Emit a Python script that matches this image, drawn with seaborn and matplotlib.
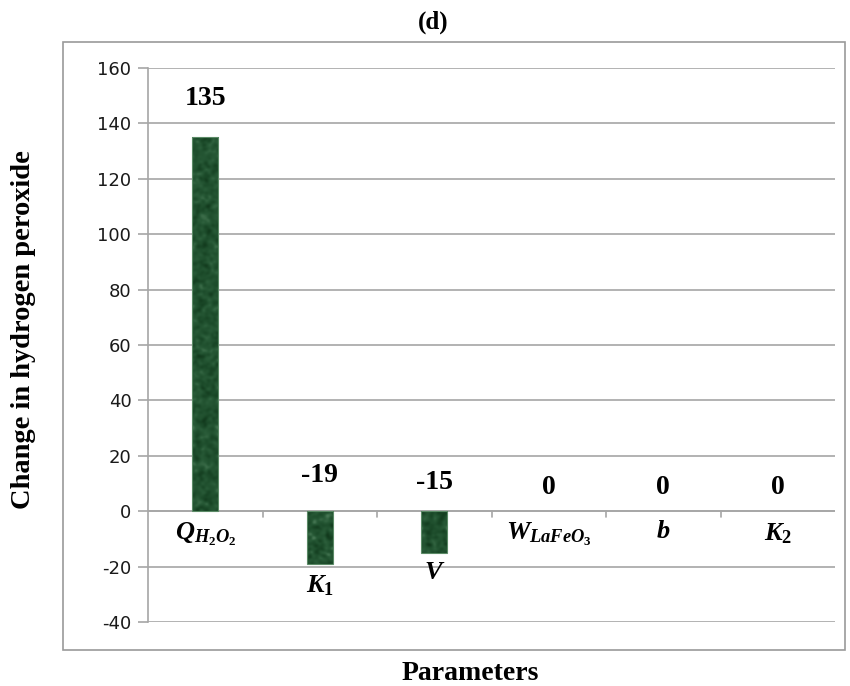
import matplotlib
matplotlib.use("Agg")
import matplotlib.pyplot as plt
import seaborn as sns
import pandas as pd
import numpy as np
from matplotlib.patches import Rectangle
from matplotlib.colors import LinearSegmentedColormap

# Sensitivity of hydrogen peroxide change to each model parameter
params = ["Q", "K1", "V", "W", "b", "K2"]
param_labels = [r"$Q_{H_2O_2}$", r"$K_1$", r"$V$", r"$W_{LaFeO_3}$", r"$b$", r"$K_2$"]
changes = [135, -19, -15, 0, 0, 0]
value_text = ["135", "-19", "-15", "0", "0", "0"]
yticks = [-40, -20, 0, 20, 40, 60, 80, 100, 120, 140, 160]

sns.set_theme(style="white")
plt.rcParams["font.family"] = ["Liberation Serif", "DejaVu Serif"]
plt.rcParams["text.color"] = "black"
plt.rcParams["mathtext.fontset"] = "custom"
plt.rcParams["mathtext.it"] = "Liberation Serif:italic:bold"
plt.rcParams["mathtext.rm"] = "Liberation Serif:bold"
plt.rcParams["mathtext.bf"] = "Liberation Serif:bold"

df = pd.DataFrame({"param": params, "change": changes})

fig = plt.figure(figsize=(8.5, 6.86), dpi=100)
ax = fig.add_axes([148 / 850, 1 - 622 / 686, 687 / 850, 554 / 686])

sns.barplot(data=df, x="param", y="change", color="#1f4f2c", width=0.23,
            saturation=1, ax=ax, zorder=3, edgecolor="#5b8a66", linewidth=0.8)

ax.set_ylim(-40, 160)
ax.set_xlim(-0.5, len(params) - 0.5)

# mottled green marble fill for the bars
def marble(h, w, seed):
    rng = np.random.default_rng(seed)
    n = rng.standard_normal((h, w))
    ky = np.fft.fftfreq(h)[:, None]
    kx = np.fft.fftfreq(w)[None, :]
    filt = np.exp(-((kx * 7) ** 2 + (ky * 7) ** 2))
    s = np.real(np.fft.ifft2(np.fft.fft2(n) * filt))
    s = (s - s.min()) / (s.max() - s.min() + 1e-9)
    return s

px_per_unit = 554 / 200
marble_cmap = LinearSegmentedColormap.from_list(
    "marble", ["#123a1d", "#1c4b2a", "#285a37", "#457552"])
for k, patch in enumerate(ax.patches):
    x, y = patch.get_x(), patch.get_y()
    w, h = patch.get_width(), patch.get_height()
    if abs(h) < 1e-9:
        patch.set_visible(False)
        continue
    rows = max(int(round(abs(h) * px_per_unit)), 8)
    tex = marble(rows, 26, k + 3)
    im = ax.imshow(tex, extent=[x, x + w, min(y, y + h), max(y, y + h)],
                   aspect="auto", cmap=marble_cmap, zorder=3.2,
                   interpolation="bilinear")
    im.set_clip_path(patch)
    patch.set_zorder(3.3)
    patch.set_facecolor("none")

ax.set_ylim(-40, 160)
ax.set_xlim(-0.5, len(params) - 0.5)
ax.set_yticks(yticks)
ax.set_yticklabels([str(t) for t in yticks], fontfamily="DejaVu Sans",
                   fontsize=13, color="#1a1a1a")
ax.yaxis.grid(True, color="#a6a6a6", linewidth=1.2, zorder=0)
ax.tick_params(axis="y", length=7, width=1.2, color="#a6a6a6", pad=5, left=True)
for s in ["top", "right", "bottom"]:
    ax.spines[s].set_visible(False)
ax.spines["left"].set_color("#a6a6a6")
ax.spines["left"].set_linewidth(1.2)

# zero baseline with category boundary ticks
ax.axhline(0, color="#a6a6a6", linewidth=1.2, zorder=2)
for b in range(1, len(params)):
    ax.plot([b - 0.5, b - 0.5], [0, -2.2], color="#a6a6a6", linewidth=1.2, zorder=2)

ax.set_xticks([])
ax.set_xlabel("")
ax.set_ylabel("")

# category names sit below the bar end for negative bars, below zero otherwise
for i, (lab, v) in enumerate(zip(param_labels, changes)):
    base = min(v, 0)
    ax.annotate(lab, xy=(i, base), xytext=(0, -7), textcoords="offset points",
                ha="center", va="top", fontsize=19, color="black")

# value labels above the bars
value_offsets = [19, 17, 12, 8, 8, 8]
for i, (txt, v, off) in enumerate(zip(value_text, changes, value_offsets)):
    ax.annotate(txt, xy=(i, max(v, 0)), xytext=(0, off), textcoords="offset points",
                ha="center", va="bottom", fontsize=20, fontweight="bold",
                color="black")

# outer chart frame
fig.patches.append(Rectangle((63 / 850, 1 - 650 / 686), 782 / 850, 608 / 686,
                             transform=fig.transFigure, fill=False,
                             edgecolor="#9a9a9a", linewidth=1.2))

fig.text(433 / 850, 1 - 22 / 686, "(d)", ha="center", va="center",
         fontsize=18, fontweight="bold")
fig.text(470 / 850, 1 - 673 / 686, "Parameters", ha="center", va="center",
         fontsize=20, fontweight="bold")
fig.text(24 / 850, 1 - 330 / 686, "Change in hydrogen peroxide", ha="center",
         va="center", rotation=90, fontsize=20.5, fontweight="bold")

fig.savefig("out.png", dpi=100)
